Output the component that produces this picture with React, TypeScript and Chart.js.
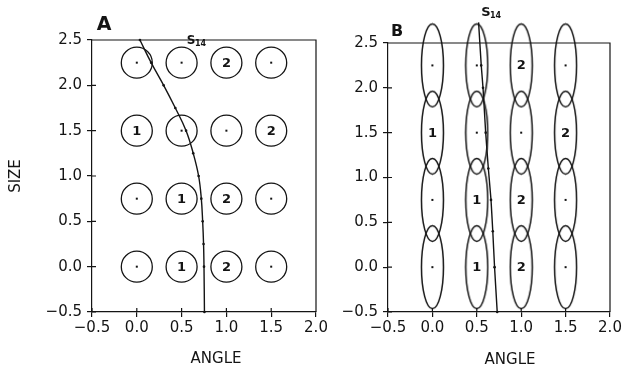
import React, { useEffect, useRef } from 'react';
import { Chart, registerables } from 'chart.js';

Chart.register(...registerables);

const W = 635;
const H = 368;
const INK = '#141414';
const FONT = '"DejaVu Sans", sans-serif';

// grid of cells
const angles = [0, 0.5, 1.0, 1.5];
const sizes = [0, 0.75, 1.5, 2.25];
// class marks per size row (bottom to top), per angle column; 0 = dot only
const cellClassA = [
  [0, 1, 2, 0],
  [0, 1, 2, 0],
  [1, 0, 0, 2],
  [0, 0, 2, 0],
];
const cellClassB = [
  [0, 1, 2, 0],
  [0, 1, 2, 0],
  [1, 0, 0, 2],
  [0, 0, 2, 0],
];

// S14 boundary, panel A
const curveAx = [0.035, 0.16, 0.3, 0.43, 0.55, 0.63, 0.69, 0.72, 0.735, 0.745, 0.75, 0.755];
const curveAy = [2.5, 2.25, 2.0, 1.75, 1.5, 1.25, 1.0, 0.75, 0.5, 0.25, 0.0, -0.5];
// S14 boundary, panel B
const curveBx = [0.52, 0.55, 0.57, 0.6, 0.63, 0.66, 0.68, 0.7, 0.73];
const curveBy = [2.73, 2.25, 2.0, 1.5, 1.1, 0.75, 0.4, 0.0, -0.5];

const xTickLabels = ['\u22120.5', '0.0', '0.5', '1.0', '1.5', '2.0'];
const yTickLabels = ['\u22120.5', '0.0', '0.5', '1.0', '1.5', '2.0', '2.5'];

const xTitle = 'ANGLE';
const yTitle = 'SIZE';
const panelLetters = ['A', 'B'];
const curveName = 'S';
const curveSub = '14';

function makeEllipse(rx: number, ry: number, lw: number) {
  const c = document.createElement('canvas');
  c.width = Math.ceil(rx * 2 + lw * 2);
  c.height = Math.ceil(ry * 2 + lw * 2);
  const g = c.getContext('2d')!;
  g.strokeStyle = INK;
  g.lineWidth = lw;
  g.beginPath();
  g.ellipse(c.width / 2, c.height / 2, rx, ry, 0, 0, Math.PI * 2);
  g.stroke();
  return c;
}

const decorPlugin = {
  id: 'decor',
  afterDatasetsDraw(chart: any) {
    const opt = chart.options.plugins.decor;
    const { ctx, chartArea: ca, scales } = chart;
    ctx.save();
    ctx.strokeStyle = INK;
    ctx.lineWidth = 1.2;
    ctx.beginPath();
    ctx.moveTo(ca.left, ca.top);
    ctx.lineTo(ca.right, ca.top);
    ctx.lineTo(ca.right, ca.bottom);
    const xs = scales.x;
    const ys = scales.y;
    xs.ticks.forEach((_t: any, i: number) => {
      const px = xs.getPixelForTick(i);
      ctx.moveTo(px, ca.bottom);
      ctx.lineTo(px, ca.bottom - 4);
    });
    ys.ticks.forEach((_t: any, i: number) => {
      const py = ys.getPixelForTick(i);
      ctx.moveTo(ca.left, py);
      ctx.lineTo(ca.left + 4, py);
    });
    ctx.stroke();

    // cell marks
    chart.data.datasets.forEach((ds: any, di: number) => {
      if (!ds.marks) return;
      const meta = chart.getDatasetMeta(di);
      meta.data.forEach((el: any, i: number) => {
        const m = ds.marks[i];
        ctx.fillStyle = INK;
        if (m === 0) {
          ctx.fillRect(el.x - 1, el.y - 1, 2, 2);
        } else {
          ctx.font = `bold 13px ${FONT}`;
          ctx.textAlign = 'center';
          ctx.textBaseline = 'middle';
          ctx.fillText(String(m), el.x, el.y + 0.5);
        }
      });
    });

    // panel letter
    ctx.fillStyle = INK;
    ctx.textAlign = 'center';
    ctx.textBaseline = 'middle';
    ctx.font = `bold ${opt.letterSize}px ${FONT}`;
    ctx.fillText(opt.letter, ca.left + opt.letterDx, ca.top + opt.letterDy);

    // S14 label
    ctx.font = `bold ${opt.sSize}px ${FONT}`;
    const sx = ca.left + opt.sDx;
    const sy = ca.top + opt.sDy;
    ctx.fillText(curveName, sx, sy);
    ctx.font = `bold 8px ${FONT}`;
    ctx.textAlign = 'left';
    ctx.fillText(curveSub, sx + 4, sy + 3);

    // x title
    ctx.font = `15px ${FONT}`;
    ctx.textAlign = 'center';
    ctx.fillText(xTitle, (ca.left + ca.right) / 2 + opt.xTitleDx, ca.bottom + opt.xTitleDy);
    ctx.restore();
  },
};

function cellData(cls: number[][]) {
  const pts: { x: number; y: number }[] = [];
  const marks: number[] = [];
  sizes.forEach((s, r) => {
    angles.forEach((a, c) => {
      pts.push({ x: a, y: s });
      marks.push(cls[r][c]);
    });
  });
  return { pts, marks };
}

function buildConfig(panel: 'A' | 'B'): any {
  const isA = panel === 'A';
  const cells = cellData(isA ? cellClassA : cellClassB);
  const cx = isA ? curveAx : curveBx;
  const cy = isA ? curveAy : curveBy;
  const curve = cx.map((x, i) => ({ x, y: cy[i] }));
  const tickFont = { family: FONT, size: 15 };

  const cellDataset: any = isA
    ? {
        data: cells.pts,
        marks: cells.marks,
        pointStyle: 'circle',
        pointRadius: 15.5,
        pointBorderWidth: 1.3,
        pointBorderColor: INK,
        pointBackgroundColor: 'rgba(0,0,0,0)',
        showLine: false,
        clip: false,
      }
    : {
        data: cells.pts,
        marks: cells.marks,
        pointStyle: makeEllipse(11, 41.5, 1.5),
        pointRadius: 11,
        showLine: false,
        clip: false,
      };

  return {
    type: 'scatter',
    data: {
      datasets: [
        cellDataset,
        {
          data: curve,
          showLine: true,
          borderColor: INK,
          borderWidth: 1.4,
          tension: isA ? 0.4 : 0.1,
          pointRadius: 1.3,
          pointBackgroundColor: INK,
          pointBorderWidth: 0,
          fill: false,
          clip: false,
        },
      ],
    },
    options: {
      responsive: false,
      animation: false,
      events: [],
      layout: {
        padding: isA
          ? { left: 0, top: 40, right: W - 316, bottom: 0 }
          : { left: 330, top: 43, right: W - 610, bottom: 0 },
      },
      plugins: {
        legend: { display: false },
        tooltip: { enabled: false },
        decor: isA
          ? { letter: panelLetters[0], letterSize: 19, letterDx: 12, letterDy: -15, sSize: 12, sDx: 99, sDy: 1, xTitleDx: 12, xTitleDy: 47 }
          : { letter: panelLetters[1], letterSize: 16, letterDx: 9, letterDy: -11, sSize: 13, sDx: 98, sDy: -30, xTitleDx: 11, xTitleDy: 48 },
      },
      scales: {
        x: {
          type: 'linear',
          min: -0.5,
          max: 2.0,
          afterFit: (s: any) => {
            s.height = 56;
          },
          grid: { display: true, drawOnChartArea: false, drawTicks: true, tickLength: 5, color: INK, lineWidth: 1.2 },
          border: { display: true, color: INK, width: 1.2 },
          ticks: {
            stepSize: 0.5,
            padding: 2,
            autoSkip: false,
            maxRotation: 0,
            color: INK,
            font: tickFont,
            callback: (_v: any, i: number) => xTickLabels[i],
          },
          title: { display: false },
        },
        y: {
          type: 'linear',
          min: -0.5,
          max: 2.5,
          afterFit: (s: any) => {
            s.width = isA ? 92 : 58;
          },
          grid: { display: true, drawOnChartArea: false, drawTicks: true, tickLength: 5, color: INK, lineWidth: 1.2 },
          border: { display: true, color: INK, width: 1.2 },
          ticks: {
            stepSize: 0.5,
            padding: 5,
            autoSkip: false,
            color: INK,
            font: tickFont,
            callback: (_v: any, i: number) => yTickLabels[i],
          },
          title: {
            display: isA,
            text: yTitle,
            color: INK,
            font: { family: FONT, size: 15 },
            padding: { top: 7, bottom: 0 },
          },
        },
      },
    },
    plugins: [decorPlugin],
  };
}

function Panel({ panel }: { panel: 'A' | 'B' }) {
  const ref = useRef<HTMLCanvasElement>(null);
  useEffect(() => {
    if (!ref.current) return;
    const chart = new Chart(ref.current, buildConfig(panel));
    return () => chart.destroy();
  }, [panel]);
  return (
    <canvas
      ref={ref}
      width={W}
      height={H}
      style={{ position: 'absolute', left: 0, top: 0, width: W, height: H }}
    />
  );
}

export default function App() {
  return (
    <div style={{ position: 'absolute', left: 0, top: 0, width: W, height: H, background: '#fff' }}>
      <Panel panel="A" />
      <Panel panel="B" />
    </div>
  );
}
